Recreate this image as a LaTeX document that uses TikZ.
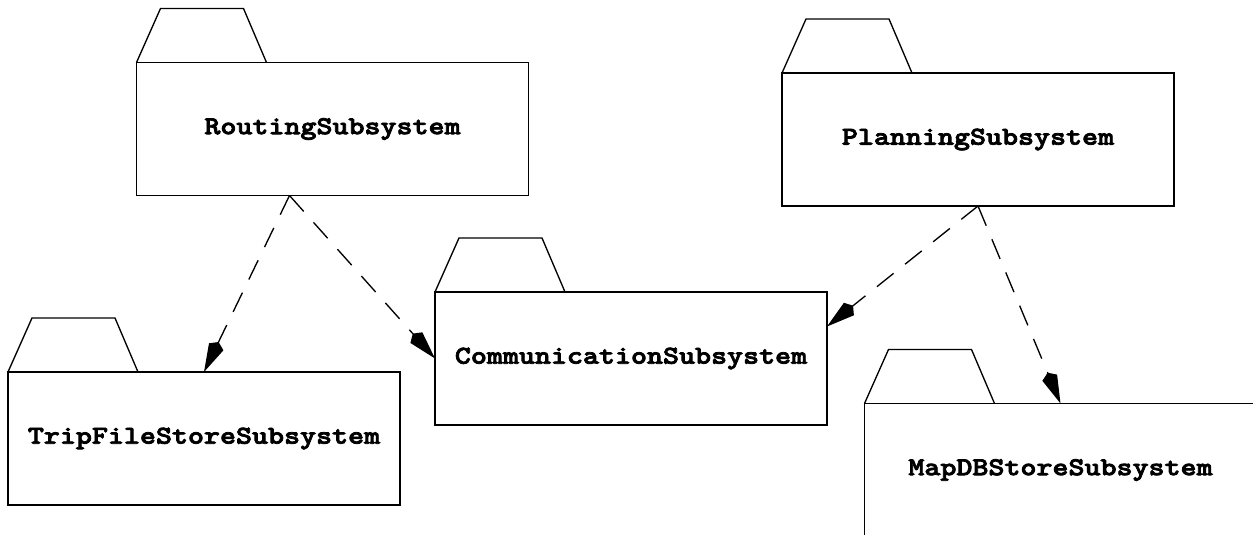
\documentclass[tikz,border=0pt]{standalone}
\usepackage{fontspec}
\usetikzlibrary{arrows.meta,calc}
% package names: heavy typewriter, widened to the box font's pitch
\newfontfamily\pkgfont{lmmonolt10-bold.otf}[FakeStretch=1.185,FakeBold=3]
\begin{document}
\begin{tikzpicture}[x=0.75pt,y=-0.75pt,
  pkg/.style={draw,line width=1pt,minimum width=294pt,minimum height=99.75pt,
    inner sep=0pt,outer sep=0pt,font=\pkgfont\fontsize{19.3}{23}\selectfont},
  tab/.style={draw,line width=1pt,line join=miter},
  dep/.style={draw,line width=1pt,dash pattern=on 16pt off 11pt,
    -{Kite[length=25pt,width=12pt,inset=4pt]}}]
  \useasboundingbox (0,0) rectangle (1253,535);
  \clip (0,0) rectangle (1253,535);

  % packages
  \node[pkg] (r) at (332.5,129)  {RoutingSubsystem};
  \node[pkg] (p) at (978,139.5)  {PlanningSubsystem};
  \node[pkg] (c) at (631,358.5)  {CommunicationSubsystem};
  \node[pkg] (t) at (204,438.5)  {TripFileStoreSubsystem};
  \node[pkg] (m) at (1060.5,470) {MapDBStoreSubsystem};

  % folder tabs
  \foreach \n in {r,p,c,t,m}
    \draw[tab] (\n.north west) -- ++(24,-54) -- ++(83,0) -- ++(23,54);

  % connector ends
  \coordinate (ra) at ($(r.south west)+(153,0)$);
  \coordinate (ce) at ($(c.east)+(0,-32)$);

  % dependencies
  \draw[dep] (ra) -- (t.north);
  \draw[dep] (ra) -- (c.west);
  \draw[dep] (p.south) -- (ce);
  \draw[dep] (p.south) -- (m.north);
\end{tikzpicture}
\end{document}
